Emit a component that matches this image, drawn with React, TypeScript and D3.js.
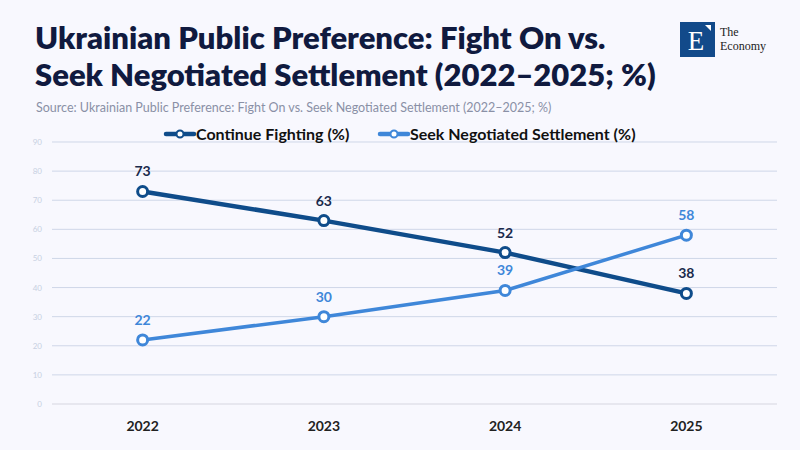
import { useEffect, useRef } from 'react';
import * as d3 from 'd3';

const years = ['2022', '2023', '2024', '2025'];
const continueFighting = [73, 63, 52, 38];
const seekSettlement = [22, 30, 39, 58];
const yTicks = [0, 10, 20, 30, 40, 50, 60, 70, 80, 90];

const W = 800;
const H = 450;
const DARK = '#0f4c8a';
const LIGHT = '#3f87d9';
const FONT = 'Lato, "Noto Sans", sans-serif';
const SERIF = '"Liberation Serif", "DejaVu Serif", serif';

export default function App() {
  const svgRef = useRef<SVGSVGElement>(null);

  useEffect(() => {
    document.body.style.margin = '0';
    document.body.style.background = '#f8f8fe';
    if (!svgRef.current) return;
    const svg = d3.select(svgRef.current);
    svg.selectAll('*').remove();

    svg.append('rect').attr('width', W).attr('height', H).attr('fill', '#f8f8fe');

    // title
    const title = svg.append('text')
      .attr('font-family', FONT)
      .attr('font-weight', 800)
      .attr('font-size', 31)
      .attr('fill', '#101a3f');
    title.append('tspan').attr('x', 35).attr('y', 49).text('Ukrainian Public Preference: Fight On vs.');
    title.append('tspan').attr('x', 35).attr('y', 86).text('Seek Negotiated Settlement (2022–2025; %)');

    svg.append('text')
      .attr('x', 36).attr('y', 112)
      .attr('font-family', FONT)
      .attr('font-size', 12.5)
      .attr('fill', '#8a90a6')
      .text('Source: Ukrainian Public Preference: Fight On vs. Seek Negotiated Settlement (2022–2025; %)');

    // logo
    const logo = svg.append('g');
    logo.append('rect').attr('x', 680).attr('y', 22).attr('width', 35).attr('height', 35).attr('fill', '#124a8a');
    logo.append('text')
      .attr('x', 696).attr('y', 50)
      .attr('text-anchor', 'middle')
      .attr('font-family', SERIF)
      .attr('font-size', 27)
      .attr('fill', '#fff')
      .text('E');
    logo.append('path').attr('d', 'M705,25 L711,25 L711,31 Z').attr('fill', '#fff');
    logo.append('text')
      .attr('x', 720).attr('y', 36)
      .attr('font-family', SERIF)
      .attr('font-size', 12)
      .attr('fill', '#222')
      .text('The');
    logo.append('text')
      .attr('x', 720).attr('y', 50)
      .attr('font-family', SERIF)
      .attr('font-size', 12)
      .attr('fill', '#222')
      .text('Economy');

    // scales
    const x = d3.scalePoint<string>().domain(years).range([52, 777]).padding(0.5);
    const y = d3.scaleLinear().domain([0, 90]).range([404, 142]);

    // grid
    svg.append('g')
      .selectAll('line')
      .data(yTicks)
      .join('line')
      .attr('x1', 52).attr('x2', 777)
      .attr('y1', (d) => y(d)).attr('y2', (d) => y(d))
      .attr('stroke', (d) => (d === 0 ? '#d6d6e0' : '#cfd7e8'))
      .attr('stroke-width', 1);

    svg.append('g')
      .selectAll('text')
      .data(yTicks)
      .join('text')
      .attr('x', 42).attr('y', (d) => y(d) + 3)
      .attr('text-anchor', 'end')
      .attr('font-family', FONT)
      .attr('font-size', 8)
      .attr('fill', '#c7d0e2')
      .text((d) => d);

    svg.append('g')
      .selectAll('text')
      .data(years)
      .join('text')
      .attr('x', (d) => x(d)!)
      .attr('y', 431)
      .attr('text-anchor', 'middle')
      .attr('font-family', FONT)
      .attr('font-weight', 700)
      .attr('font-size', 14)
      .attr('fill', '#222')
      .text((d) => d);

    const series = [
      { values: continueFighting, color: DARK, width: 4.5, label: '#1a2a4c' },
      { values: seekSettlement, color: LIGHT, width: 3.5, label: LIGHT },
    ];

    series.forEach((s) => {
      const pts = s.values.map((v, i) => ({ year: years[i], v }));
      const line = d3.line<{ year: string; v: number }>()
        .x((d) => x(d.year)!)
        .y((d) => y(d.v));
      svg.append('path')
        .datum(pts)
        .attr('fill', 'none')
        .attr('stroke', s.color)
        .attr('stroke-width', s.width)
        .attr('d', line);
      svg.append('g')
        .selectAll('circle')
        .data(pts)
        .join('circle')
        .attr('cx', (d) => x(d.year)!)
        .attr('cy', (d) => y(d.v))
        .attr('r', 5)
        .attr('fill', '#fff')
        .attr('stroke', s.color)
        .attr('stroke-width', 3);
      svg.append('g')
        .selectAll('text')
        .data(pts)
        .join('text')
        .attr('x', (d) => x(d.year)!)
        .attr('y', (d) => y(d.v) - 15)
        .attr('text-anchor', 'middle')
        .attr('font-family', FONT)
        .attr('font-weight', 700)
        .attr('font-size', 14)
        .attr('fill', s.label)
        .text((d) => d.v);
    });

    // legend
    const legend = [
      { name: 'Continue Fighting (%)', color: DARK, x: 166 },
      { name: 'Seek Negotiated Settlement (%)', color: LIGHT, x: 380 },
    ];
    legend.forEach((l) => {
      const g = svg.append('g').attr('transform', `translate(${l.x},134)`);
      g.append('line').attr('x1', 0).attr('x2', 28).attr('y1', 0).attr('y2', 0)
        .attr('stroke', l.color).attr('stroke-width', 4.5).attr('stroke-linecap', 'round');
      g.append('circle').attr('cx', 14).attr('cy', 0).attr('r', 3.5)
        .attr('fill', '#fff').attr('stroke', l.color).attr('stroke-width', 2);
      g.append('text')
        .attr('x', 30).attr('y', 5.5)
        .attr('font-family', FONT)
        .attr('font-weight', 700)
        .attr('font-size', 16)
        .attr('fill', '#111')
        .text(l.name);
    });
  }, []);

  return (
    <svg ref={svgRef} width={W} height={H} style={{ display: 'block' }} />
  );
}
